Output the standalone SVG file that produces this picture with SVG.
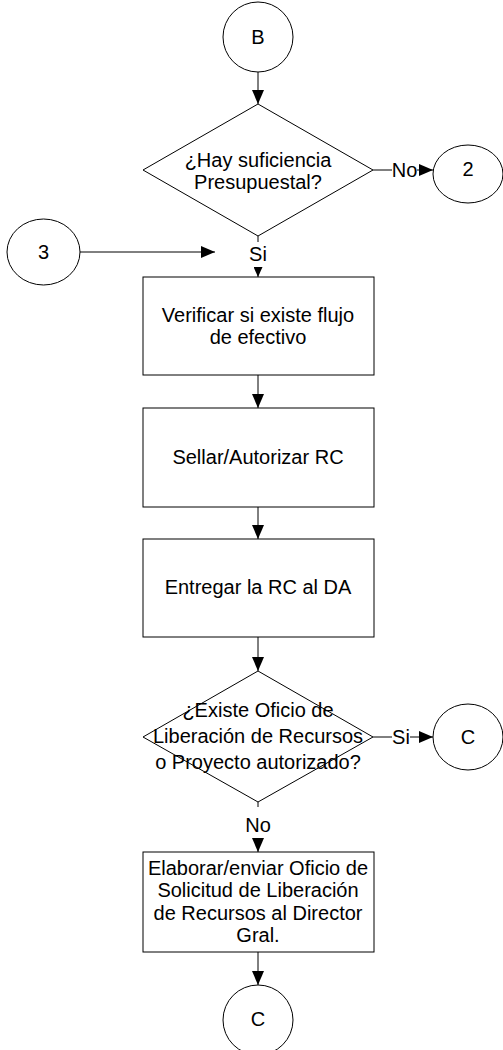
<svg xmlns="http://www.w3.org/2000/svg" width="503" height="1050" viewBox="0 0 503 1050">
<style>
.s{fill:#fff;stroke:#000;stroke-width:1}
.t{font-family:"Liberation Sans",Arial,sans-serif;font-size:20px;fill:#000;text-anchor:middle}
.c{fill:none;stroke:#000;stroke-width:1}
</style>
<defs>
<marker id="a" markerUnits="userSpaceOnUse" markerWidth="14" markerHeight="12" refX="14" refY="6" orient="auto"><path d="M0,0L14,6L0,12Z" fill="#000"/></marker>
<marker id="as" markerUnits="userSpaceOnUse" markerWidth="10" markerHeight="9" refX="10" refY="4.5" orient="auto"><path d="M0,0L10,4.5L0,9Z" fill="#000"/></marker>
</defs>
<rect width="503" height="1050" fill="#fff"/>
<g id="connectors">
<line class="c" x1="258" y1="72" x2="258" y2="104" marker-end="url(#a)"/>
<line class="c" x1="373" y1="170" x2="392" y2="170"/>
<text class="t" x="404.5" y="177">No</text>
<line class="c" x1="417" y1="170" x2="433" y2="170" marker-end="url(#a)"/>
<line class="c" x1="258" y1="236" x2="258" y2="242"/>
<text class="t" x="258" y="261">Si</text>
<line class="c" x1="258" y1="268" x2="258" y2="277" marker-end="url(#as)"/>
<line class="c" x1="80" y1="252" x2="215" y2="252" marker-end="url(#a)"/>
<line class="c" x1="258" y1="375" x2="258" y2="408" marker-end="url(#a)"/>
<line class="c" x1="258" y1="507" x2="258" y2="539" marker-end="url(#a)"/>
<line class="c" x1="258" y1="637" x2="258" y2="671" marker-end="url(#a)"/>
<line class="c" x1="373" y1="737" x2="392" y2="737"/>
<text class="t" x="401" y="744">Si</text>
<line class="c" x1="410" y1="737" x2="433" y2="737" marker-end="url(#a)"/>
<line class="c" x1="258" y1="802" x2="258" y2="807"/>
<text class="t" x="258" y="832">No</text>
<line class="c" x1="258" y1="838" x2="258" y2="852" marker-end="url(#a)"/>
<line class="c" x1="258" y1="952" x2="258" y2="985" marker-end="url(#a)"/>
</g>
<g id="nodeB"><ellipse class="s" cx="258" cy="37" rx="35" ry="35"/><text class="t" x="258" y="44">B</text></g>
<g id="decision1"><polygon class="s" points="258,104 373,170 258,236 143,170"/><text class="t" x="258" y="167">¿Hay suficiencia</text><text class="t" x="258" y="189">Presupuestal?</text></g>
<g id="node2"><ellipse class="s" cx="468" cy="174" rx="35" ry="29"/><text class="t" x="468" y="176">2</text></g>
<g id="node3"><ellipse class="s" cx="43.5" cy="252" rx="36.5" ry="33"/><text class="t" x="43.5" y="259">3</text></g>
<g id="box1"><rect class="s" x="143" y="277" width="231" height="98"/><text class="t" x="258" y="322">Verificar si existe flujo</text><text class="t" x="258" y="344">de efectivo</text></g>
<g id="box2"><rect class="s" x="143" y="408" width="231" height="99"/><text class="t" x="258" y="464">Sellar/Autorizar RC</text></g>
<g id="box3"><rect class="s" x="143" y="539" width="231" height="98"/><text class="t" x="258" y="594">Entregar la RC al DA</text></g>
<g id="decision2"><polygon class="s" points="258,671 373,737 258,802 143,737"/><text class="t" x="258" y="717">¿Existe Oficio de</text><text class="t" x="258" y="743">Liberación de Recursos</text><text class="t" x="258" y="769">o Proyecto autorizado?</text></g>
<g id="nodeC1"><ellipse class="s" cx="468" cy="737" rx="35" ry="33"/><text class="t" x="468" y="744">C</text></g>
<g id="box4"><rect class="s" x="143" y="852" width="231" height="100"/><text class="t" x="258" y="875">Elaborar/enviar Oficio de</text><text class="t" x="258" y="897">Solicitud de Liberación</text><text class="t" x="258" y="919.5">de Recursos al Director</text><text class="t" x="258" y="942">Gral.</text></g>
<g id="nodeC2"><ellipse class="s" cx="258" cy="1020" rx="35" ry="35"/><text class="t" x="258" y="1026">C</text></g>
</svg>
